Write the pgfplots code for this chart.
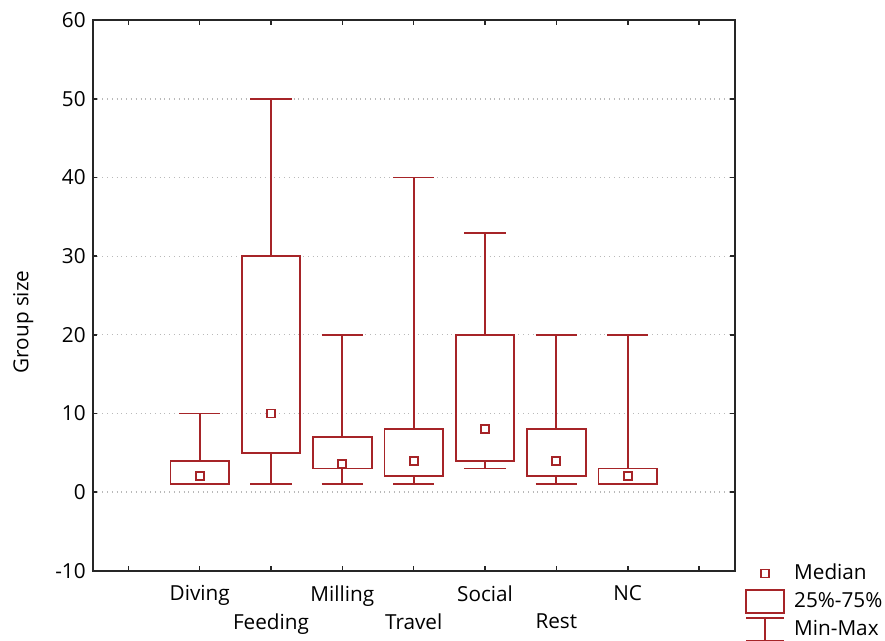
\documentclass[border=0pt]{standalone}
\usepackage{fontspec}
\setmainfont{Open Sans}
\usepackage{pgfplots}
\pgfplotsset{compat=1.18}
\usepgfplotslibrary{statistics}
\definecolor{boxred}{RGB}{166,36,40}
\begin{document}
\begin{tikzpicture}
\useasboundingbox (-46.35bp,-35.15bp) rectangle (396.15bp,285.35bp);
\begin{axis}[
  at={(0,0)}, anchor=south west,
  scale only axis, width=321bp, height=275.2bp,
  xmin=-0.5, xmax=8.5, ymin=-10, ymax=60,
  ytick={-10,0,10,20,30,40,50,60},
  xtick={0,1,3,5,7,8},
  xticklabels={,Diving,Milling,Social,NC,},
  xticklabel style={yshift=-4bp},
  extra x ticks={2,4,6},
  extra x tick labels={Feeding,Travel,Rest},
  extra x tick style={grid=none, xticklabel style={yshift=-14bp}},
  ymajorgrids,
  major grid style={dotted, gray!55, line width=0.6bp},
  axis line style={black!85, line width=0.9bp},
  major tick style={black!85, line width=0.8bp},
  major tick length=2.2bp,
  tick label style={font=\fontsize{10.4}{12}\selectfont},
  /pgf/number format/assume math mode=true,
  ylabel={Group size},
  ylabel style={font=\fontsize{10.4}{12}\selectfont, at={(axis description cs:-0.108,0.452)}, anchor=center, rotate=0},
  boxplot/draw direction=y,
  boxplot/draw/median/.code={},
  legend style={at={(axis description cs:1.016,0.018)}, anchor=north west, draw=none, fill=none,
     inner sep=0pt, row sep=1.5bp, column sep=3bp, font=\fontsize{10.4}{12}\selectfont,
     nodes={inner sep=1.5bp}},
  legend cell align=left,
]
\addplot[forget plot, draw=boxred, line width=0.9bp, boxplot prepared={draw position=1, lower whisker=1, lower quartile=1, median=2, upper quartile=4, upper whisker=10, box extend=0.82, whisker extend=0.58}] coordinates {};
\addplot[forget plot, draw=boxred, line width=0.9bp, boxplot prepared={draw position=2, lower whisker=1, lower quartile=5, median=10, upper quartile=30, upper whisker=50, box extend=0.82, whisker extend=0.58}] coordinates {};
\addplot[forget plot, draw=boxred, line width=0.9bp, boxplot prepared={draw position=3, lower whisker=1, lower quartile=3, median=3.6, upper quartile=7, upper whisker=20, box extend=0.82, whisker extend=0.58}] coordinates {};
\addplot[forget plot, draw=boxred, line width=0.9bp, boxplot prepared={draw position=4, lower whisker=1, lower quartile=2, median=4, upper quartile=8, upper whisker=40, box extend=0.82, whisker extend=0.58}] coordinates {};
\addplot[forget plot, draw=boxred, line width=0.9bp, boxplot prepared={draw position=5, lower whisker=3, lower quartile=4, median=8, upper quartile=20, upper whisker=33, box extend=0.82, whisker extend=0.58}] coordinates {};
\addplot[forget plot, draw=boxred, line width=0.9bp, boxplot prepared={draw position=6, lower whisker=1, lower quartile=2, median=4, upper quartile=8, upper whisker=20, box extend=0.82, whisker extend=0.58}] coordinates {};
\addplot[forget plot, draw=boxred, line width=0.9bp, boxplot prepared={draw position=7, lower whisker=1, lower quartile=1, median=2, upper quartile=3, upper whisker=20, box extend=0.82, whisker extend=0.58}] coordinates {};
\addplot[forget plot, only marks, mark=square*, mark size=2bp, mark options={draw=boxred, fill=white, line width=0.9bp, solid}]
  coordinates {(1,2) (2,10) (3,3.6) (4,4) (5,8) (6,4) (7,2)};
\addlegendimage{legend image code/.code={\draw[boxred, line width=0.9bp, fill=white] (7.5bp,-2bp) rectangle (11.5bp,2bp); \path[draw=none] (0,-5.75bp) -- (19bp,5.75bp);}}
\addlegendentry{Median}
\addlegendimage{legend image code/.code={\draw[boxred, line width=0.9bp] (0,-5.75bp) rectangle (19bp,5.75bp);}}
\addlegendentry{25\%-75\%}
\addlegendimage{legend image code/.code={\draw[boxred, line width=0.9bp] (0,5.75bp) -- (19bp,5.75bp) (9.5bp,5.75bp) -- (9.5bp,-5.75bp) (0,-5.75bp) -- (19bp,-5.75bp);}}
\addlegendentry{Min-Max}
\end{axis}
\end{tikzpicture}
\end{document}
